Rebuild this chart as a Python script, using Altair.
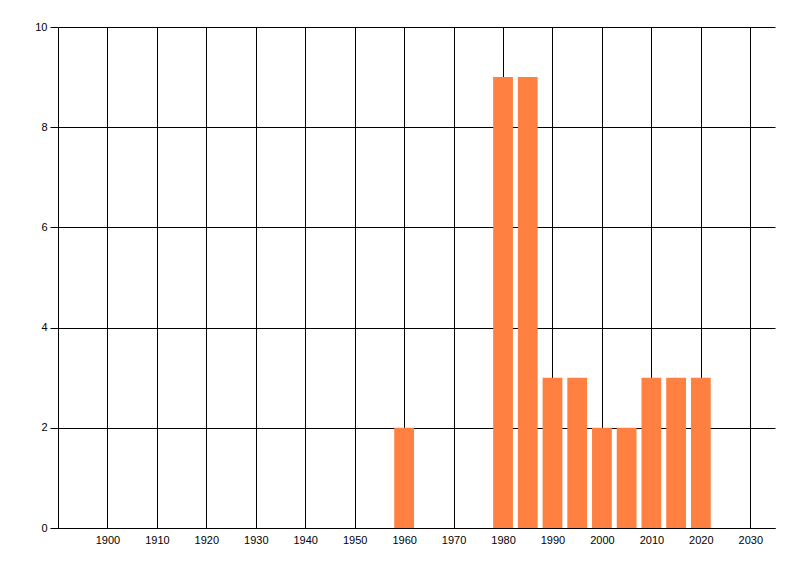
import altair as alt
import pandas as pd

years = [1960, 1980, 1985, 1990, 1995, 2000, 2005, 2010, 2015, 2020]
counts = [2, 9, 9, 3, 3, 2, 2, 3, 3, 3]
x_ticks = list(range(1900, 2031, 10))
y_ticks = [0, 2, 4, 6, 8, 10]

df = pd.DataFrame({"year": years, "count": counts})

FONT = "Liberation Sans"

chart = (
    alt.Chart(df)
    .transform_calculate(x0="datum.year - 2", x1="datum.year + 2")
    .mark_bar(color="#FF8040")
    .encode(
        x=alt.X(
            "x0:Q",
            scale=alt.Scale(domain=[1890, 2035], nice=False, zero=False),
            axis=alt.Axis(
                values=x_ticks,
                format="d",
                title=None,
                grid=True,
                gridColor="black",
                gridOpacity=1,
                gridWidth=1,
                domainColor="black",
                ticks=False,
                labelPadding=6,
                labelColor="black",
                labelFont=FONT,
                labelFontSize=11,
            ),
        ),
        x2="x1:Q",
        y=alt.Y(
            "count:Q",
            scale=alt.Scale(domain=[0, 10], nice=False),
            axis=alt.Axis(
                values=y_ticks,
                title=None,
                grid=True,
                gridColor="black",
                gridOpacity=1,
                gridWidth=1,
                domainColor="black",
                tickColor="black",
                tickSize=8,
                labelPadding=3,
                labelColor="black",
                labelFont=FONT,
                labelFontSize=11,
            ),
        ),
        y2=alt.datum(0),
    )
    .properties(
        width=717,
        height=501,
        autosize=alt.AutoSizeParams(type="none"),
        padding={"left": 50, "top": 19, "right": 10, "bottom": 20},
    )
    .configure_view(stroke=None)
)

chart.save("out.html", embed_options={"renderer": "svg", "actions": False})
